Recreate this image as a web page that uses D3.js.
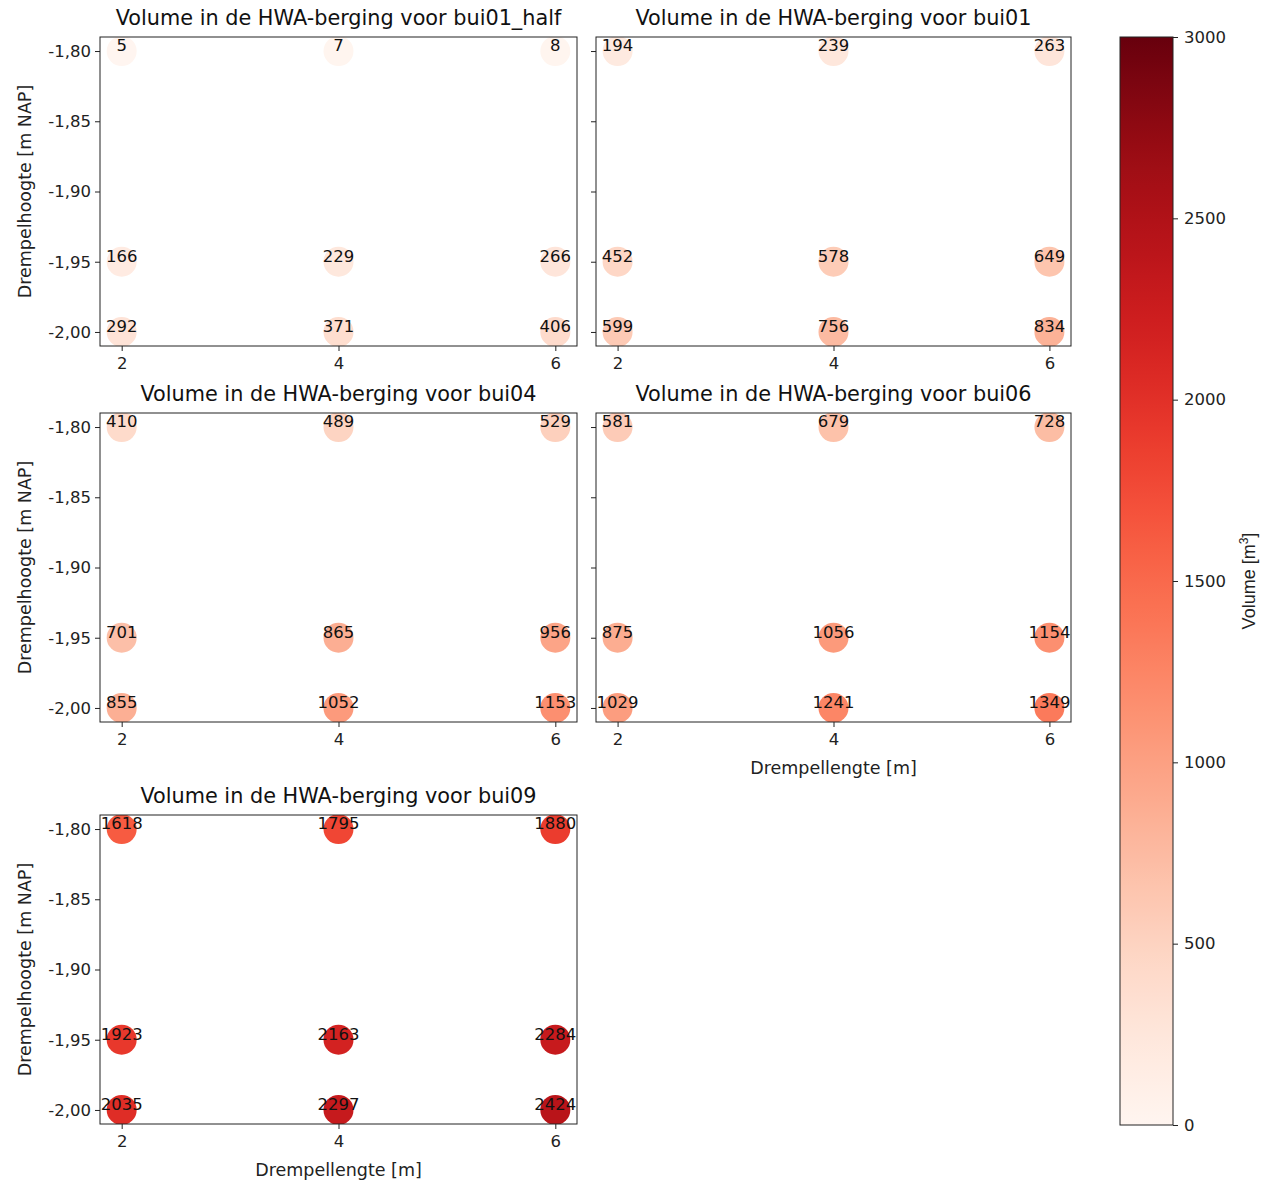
<!DOCTYPE html>
<html lang="nl">
<head>
<meta charset="UTF-8">
<title>Volume in de HWA-berging</title>
<script src="https://d3js.org/d3.v7.min.js"></script>
<style>
    body { margin: 0; background: #fff; }
    svg { font-family: "DejaVu Sans", sans-serif; }
    .axis { font-family: "DejaVu Sans", sans-serif; }
    .axis .tick text { font-size: 16.5px; fill: #222; }
    .axis .tick line { stroke: #222; }
</style>
</head>
<body>
<div id="chart"></div>
<script>
// data
const lengths = [2, 4, 6];                 // Drempellengte [m]
const heights = [-1.80, -1.95, -2.00];     // Drempelhoogte [m NAP]
const yTicks = [-1.80, -1.85, -1.90, -1.95, -2.00];
const cbTicks = [0, 500, 1000, 1500, 2000, 2500, 3000];

const buien = ["bui01_half", "bui01", "bui04", "bui06", "bui09"];
// rows follow heights, columns follow lengths
const bui01_half = [[5, 7, 8], [166, 229, 266], [292, 371, 406]];
const bui01 = [[194, 239, 263], [452, 578, 649], [599, 756, 834]];
const bui04 = [[410, 489, 529], [701, 865, 956], [855, 1052, 1153]];
const bui06 = [[581, 679, 728], [875, 1056, 1154], [1029, 1241, 1349]];
const bui09 = [[1618, 1795, 1880], [1923, 2163, 2284], [2035, 2297, 2424]];
const volumes = [bui01_half, bui01, bui04, bui06, bui09];

const width = 1265, height = 1182;

// panel boxes
const colX = [[100, 577], [596, 1071]];
const rowY = [[37, 346], [413, 722], [815, 1124]];
const panels = [
    {col: 0, row: 0, yLabel: true, xLabel: false},
    {col: 1, row: 0, yLabel: false, xLabel: false},
    {col: 0, row: 1, yLabel: true, xLabel: false},
    {col: 1, row: 1, yLabel: false, xLabel: true},
    {col: 0, row: 2, yLabel: true, xLabel: true}
];

const color = d3.scaleSequential(d3.interpolateReds).domain([0, 3000]);
const fmtY = d => d3.format(".2f")(d).replace(".", ",").replace("\u2212", "-");

const svg = d3.select("#chart").append("svg")
    .attr("width", width)
    .attr("height", height);

panels.forEach((p, k) => {
    const [x0, x1] = colX[p.col];
    const [y0, y1] = rowY[p.row];
    const x = d3.scaleLinear().domain([1.8, 6.2]).range([x0, x1]);
    const y = d3.scaleLinear().domain([-2.01, -1.79]).range([y1, y0]);

    const g = svg.append("g");

    g.append("clipPath").attr("id", "clip" + k)
        .append("rect")
        .attr("x", x0).attr("y", y0)
        .attr("width", x1 - x0).attr("height", y1 - y0);

    // points
    const pts = [];
    heights.forEach((h, i) => lengths.forEach((l, j) => {
        pts.push({l: l, h: h, v: volumes[k][i][j]});
    }));

    g.append("g").attr("clip-path", `url(#clip${k})`)
        .selectAll("circle")
        .data(pts)
        .enter().append("circle")
        .attr("cx", d => x(d.l))
        .attr("cy", d => y(d.h))
        .attr("r", 15)
        .attr("fill", d => color(d.v));

    // axes
    g.append("g")
        .attr("class", "axis")
        .attr("transform", `translate(0,${y1})`)
        .call(d3.axisBottom(x).tickValues(lengths).tickFormat(d3.format("d"))
            .tickSize(5).tickPadding(6).tickSizeOuter(0))
        .call(a => a.select(".domain").remove());

    const yAxis = d3.axisLeft(y).tickValues(yTicks).tickSize(5).tickPadding(4).tickSizeOuter(0);
    yAxis.tickFormat(p.yLabel ? fmtY : "");
    g.append("g")
        .attr("class", "axis")
        .attr("transform", `translate(${x0},0)`)
        .call(yAxis)
        .call(a => a.select(".domain").remove());

    // frame
    g.append("rect")
        .attr("x", x0).attr("y", y0)
        .attr("width", x1 - x0).attr("height", y1 - y0)
        .attr("fill", "none")
        .attr("stroke", "#222")
        .attr("stroke-width", 1);

    // value labels
    g.append("g")
        .selectAll("text")
        .data(pts)
        .enter().append("text")
        .attr("x", d => x(d.l))
        .attr("y", d => y(d.h))
        .attr("text-anchor", "middle")
        .style("font-size", "16.5px")
        .style("fill", "#111")
        .text(d => d.v);

    // title
    g.append("text")
        .attr("x", (x0 + x1) / 2)
        .attr("y", y0 - 12)
        .attr("text-anchor", "middle")
        .style("font-size", "20.8px")
        .style("fill", "#111")
        .text("Volume in de HWA-berging voor " + buien[k]);

    if (p.yLabel) {
        g.append("text")
            .attr("transform", `translate(31,${(y0 + y1) / 2}) rotate(-90)`)
            .attr("text-anchor", "middle")
            .style("font-size", "17.5px")
            .style("fill", "#222")
            .text("Drempelhoogte [m NAP]");
    }
    if (p.xLabel) {
        g.append("text")
            .attr("x", (x0 + x1) / 2)
            .attr("y", y1 + 52)
            .attr("text-anchor", "middle")
            .style("font-size", "17.5px")
            .style("fill", "#222")
            .text("Drempellengte [m]");
    }
});

// colorbar
const cbX0 = 1120, cbX1 = 1173, cbY0 = 37, cbY1 = 1125;
const cbScale = d3.scaleLinear().domain([0, 3000]).range([cbY1, cbY0]);

const grad = svg.append("defs").append("linearGradient")
    .attr("id", "cbgrad")
    .attr("x1", "0%").attr("y1", "100%")
    .attr("x2", "0%").attr("y2", "0%");
d3.range(0, 1.0001, 0.02).forEach(t => {
    grad.append("stop")
        .attr("offset", (t * 100) + "%")
        .attr("stop-color", d3.interpolateReds(t));
});

svg.append("rect")
    .attr("x", cbX0).attr("y", cbY0)
    .attr("width", cbX1 - cbX0).attr("height", cbY1 - cbY0)
    .attr("fill", "url(#cbgrad)")
    .attr("stroke", "#222");

svg.append("g")
    .attr("class", "axis")
    .attr("transform", `translate(${cbX1},0)`)
    .call(d3.axisRight(cbScale).tickValues(cbTicks).tickFormat(d3.format("d"))
        .tickSize(5).tickPadding(6).tickSizeOuter(0))
    .call(a => a.select(".domain").remove());

const cbLabel = svg.append("text")
    .attr("transform", `translate(1255,${(cbY0 + cbY1) / 2}) rotate(-90)`)
    .attr("text-anchor", "middle")
    .style("font-family", "'Liberation Sans Narrow', 'Liberation Sans', sans-serif")
    .style("font-size", "18px")
    .style("fill", "#222");
cbLabel.append("tspan").text("Volume [m");
cbLabel.append("tspan").attr("dy", -7).style("font-size", "12px").text("3");
cbLabel.append("tspan").attr("dy", 7).text("]");
</script>
</body>
</html>
